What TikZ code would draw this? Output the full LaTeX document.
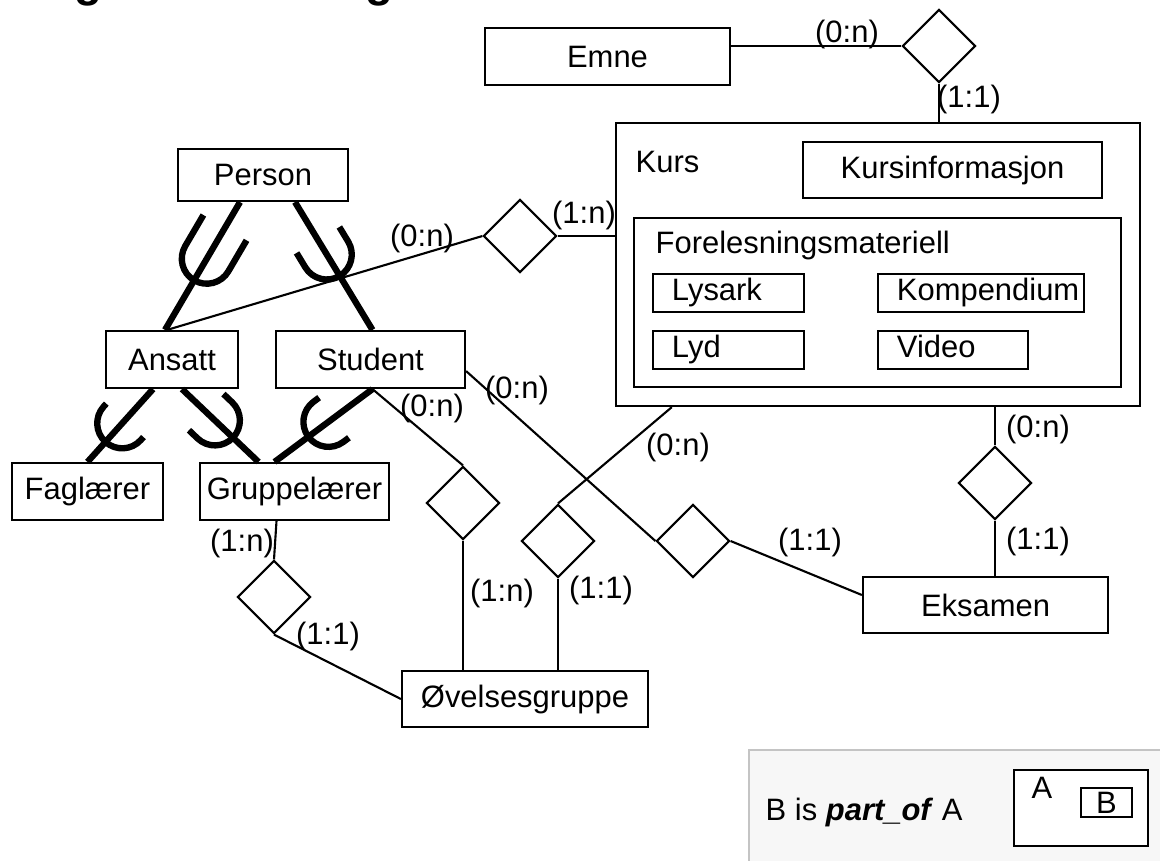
\documentclass[tikz,border=0pt]{standalone}
\usepackage{fontspec}
\setmainfont{Liberation Sans}
\usetikzlibrary{shapes.geometric,calc}
\definecolor{legendbg}{HTML}{F7F7F7}
\definecolor{legendline}{HTML}{C4C4C4}
\tikzset{pics/subset/.style={code={
  \draw[line width=1.8pt] (#1,25) -- (0,25) arc[start angle=90,end angle=270,radius=25] -- (#1,-25);}}}
\begin{document}
\begin{tikzpicture}[x=0.01cm,y=-0.01cm]
	\tikzstyle{entity}=[draw,line width=0.6pt,rectangle,inner sep=0pt,font=\fontsize{8.8}{10.5}\selectfont]
	\tikzstyle{part}=[entity,align=left,inner xsep=0.19cm,text height=6.4pt,text depth=1.9pt]
	\tikzstyle{relation}=[draw,line width=0.6pt,diamond,inner sep=0pt,minimum width=0.73cm,minimum height=0.73cm]
	\tikzstyle{card}=[font=\fontsize{8.8}{10.5}\selectfont,inner sep=0pt]
	\tikzstyle{edge}=[draw,line width=0.6pt]
	\tikzstyle{isaline}=[draw,line width=1.8pt]
	\path[use as bounding box,fill=white] (0,0) rectangle (1160,860);
	% cut-off heading
	\begin{scope}
	\clip (0,0) rectangle (1160,860);
	\node[font=\bfseries\fontsize{13}{15}\selectfont,anchor=base,inner sep=0pt] (ttl1) at (88,-4) {g};
	\node[font=\bfseries\fontsize{13}{15}\selectfont,anchor=base,inner sep=0pt] (ttl2) at (379,-4) {g};
	\end{scope}
	% entities
	\node[entity,minimum width=2.45cm,minimum height=0.57cm] (Emne) at (607.5,56.5) {Emne};
	\node[entity,minimum width=5.24cm,minimum height=2.83cm] (Kurs) at (878,264.5) {};
	\node[card,anchor=west] (KursLbl) at (635,162) {Kurs};
	\node[entity,minimum width=2.99cm,minimum height=0.56cm] (Kursinfo) at (952.5,170) {Kursinformasjon};
	\node[entity,minimum width=4.87cm,minimum height=1.69cm] (Forel) at (877.5,302.5) {};
	\node[card,anchor=west] (ForelLbl) at (655,245) {Forelesningsmateriell};
	\node[part,text width=1.13cm,minimum height=0.38cm] (Lysark) at (728.5,293) {Lysark};
	\node[part,text width=1.68cm,minimum height=0.38cm] (Kompendium) at (981,293) {Kompendium};
	\node[part,text width=1.13cm,minimum height=0.38cm] (Lyd) at (728.5,350) {Lyd};
	\node[part,text width=1.12cm,minimum height=0.38cm] (Video) at (953,350) {Video};
	\node[entity,minimum width=1.70cm,minimum height=0.52cm] (Person) at (263,175) {Person};
	\node[entity,minimum width=1.32cm,minimum height=0.57cm] (Ansatt) at (172,359.5) {Ansatt};
	\node[entity,minimum width=1.89cm,minimum height=0.57cm] (Student) at (370.5,359.5) {Student};
	\node[entity,minimum width=1.51cm,minimum height=0.57cm] (Faglaerer) at (87.5,491.5) {Faglærer};
	\node[entity,minimum width=1.89cm,minimum height=0.57cm] (Gruppelaerer) at (294.5,491.5) {Gruppelærer};
	\node[entity,minimum width=2.46cm,minimum height=0.56cm] (Ovelse) at (525,699) {Øvelsesgruppe};
	\node[entity,minimum width=2.45cm,minimum height=0.56cm] (Eksamen) at (985.5,605) {Eksamen};
	% relationships
	\node[relation] (dEK) at (939,46) {};
	\node[relation] (dAK) at (520,236) {};
	\node[relation] (dSO) at (463,503) {};
	\node[relation] (dSE) at (693,541) {};
	\node[relation] (dKO) at (558,541) {};
	\node[relation] (dGO) at (274,597) {};
	\node[relation] (dKE) at (995,483) {};
	% connectors
	\path[edge] (dEK.west) -- (dEK.west -| Emne.east);
	\path[edge] (dEK.south) -- (dEK.south |- Kurs.north);
	\path[edge] ($(Ansatt.north)+(-5,0)$) -- (dAK.west);
	\path[edge] (dAK.east) -- (dAK.east -| Kurs.west);
	\path[edge] ($(Student.south)+(2,0)$) -- (dSO.north);
	\path[edge] (dSO.south) -- (dSO.south |- Ovelse.north);
	\path[edge] ($(Student.south east)+(0,-18)$) -- (dSE.west);
	\path[edge] (dSE.east) -- ($(Eksamen.west)+(0,-10)$);
	\path[edge] ($(Kurs.south west)+(57,0)$) -- (dKO.north);
	\path[edge] (dKO.south) -- (dKO.south |- Ovelse.north);
	\path[edge] ($(Gruppelaerer.south)+(-18,0)$) -- (dGO.north);
	\path[edge] (dGO.south) -- (Ovelse.west);
	\path[edge] (dKE.north |- Kurs.south) -- (dKE.north);
	\path[edge] (dKE.south) -- (dKE.south |- Eksamen.north);
	% generalisation
	\path[isaline] ($(Ansatt.north)+(-7,0)$) -- ($(Person.south)+(-23,0)$) pic[pos=0.557,sloped,allow upside down] {subset=36};
	\path[isaline] ($(Student.north)+(2,0)$) -- ($(Person.south)+(32,0)$) pic[pos=0.59,sloped,allow upside down] {subset=17};
	\path[isaline] (Faglaerer.north) -- ($(Ansatt.south)+(-19,0)$) pic[pos=0.53,sloped,allow upside down] {subset=4};
	\path[isaline] ($(Gruppelaerer.north)+(-36,0)$) -- ($(Ansatt.south)+(10,0)$) pic[pos=0.57,sloped,allow upside down] {subset=12};
	\path[isaline] ($(Gruppelaerer.north)+(-20,0)$) -- ($(Student.south)+(2,0)$) pic[pos=0.55,sloped,allow upside down] {subset=7};
	% cardinalities
	\node[card] (c1) at (847,34) {(0:n)};
	\node[card] (c2) at (969,99) {(1:1)};
	\node[card] (c3) at (422,238) {(0:n)};
	\node[card] (c4) at (584,215) {(1:n)};
	\node[card] (c5) at (432,408) {(0:n)};
	\node[card] (c6) at (502,593) {(1:n)};
	\node[card] (c7) at (517,390) {(0:n)};
	\node[card] (c8) at (810,542) {(1:1)};
	\node[card] (c9) at (678,447) {(0:n)};
	\node[card] (c10) at (601,590) {(1:1)};
	\node[card] (c11) at (242,543) {(1:n)};
	\node[card] (c12) at (328,636) {(1:1)};
	\node[card] (c13) at (1038,429) {(0:n)};
	\node[card] (c14) at (1038,541) {(1:1)};
	% legend
	\draw[fill=legendbg,draw=legendline,line width=0.6pt] (749,750) rectangle (1175,875);
	\node[card,anchor=west] (legTxt) at (765,812) {B is \textbf{\textit{part\_of}} A};
	\node[entity,fill=white,minimum width=1.34cm,minimum height=0.76cm] (legA) at (1081,808) {};
	\node[card] (legALbl) at (1042,788) {A};
	\node[entity,minimum width=0.51cm,minimum height=0.29cm] (legB) at (1106.5,802.5) {B};
\end{tikzpicture}
\end{document}
